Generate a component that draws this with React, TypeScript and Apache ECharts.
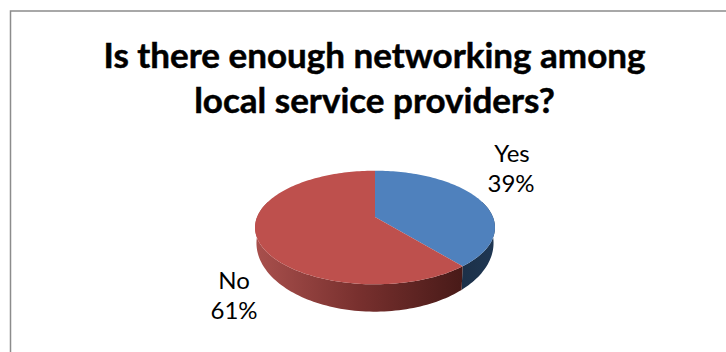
import React, { useEffect, useRef } from "react";
import * as echarts from "echarts";

const categories = ["Yes", "No"];
const values = [39, 61];
const topColors = ["#4f81bd", "#be504d"];
const titleLines = ["Is there enough networking among", "local service providers?"];

// Screen geometry of the tilted disc, with a perspective foreshortening term.
const CX = 375;
const CY = 217;
const SCALE_X = 117.9;
const SCALE_Y = 54.85;
const PERSPECTIVE = 0.185;
// The underside of the disc, seen through the same perspective.
const BOTTOM_CY = 230.3;
const BOTTOM_SCALE_X = 116.5;
const BOTTOM_SCALE_Y = 66.3;

const total = values.reduce((a, b) => a + b, 0);

function sliceRange(index: number): [number, number] {
  const before = values.slice(0, index).reduce((a, b) => a + b, 0);
  return [(before / total) * Math.PI * 2, ((before + values[index]) / total) * Math.PI * 2];
}

function rimPoint(angle: number): [number, number] {
  const u = Math.sin(angle);
  const v = -Math.cos(angle);
  const w = 1 - PERSPECTIVE * v;
  return [CX + (SCALE_X * u) / w, CY + (SCALE_Y * v) / w];
}

function lowerRimPoint(angle: number): [number, number] {
  const u = Math.sin(angle);
  const v = -Math.cos(angle);
  const w = 1 - PERSPECTIVE * v;
  return [CX + (BOTTOM_SCALE_X * u) / w, BOTTOM_CY + (BOTTOM_SCALE_Y * v) / w];
}

function sampleAngles(a: number, b: number): number[] {
  const steps = Math.max(2, Math.ceil(((b - a) / (Math.PI * 2)) * 240));
  const out: number[] = [];
  for (let i = 0; i <= steps; i++) out.push(a + ((b - a) * i) / steps);
  return out;
}

function renderWall(params: any) {
  const i = params.dataIndex;
  const [a, b] = sliceRange(i);
  // Only the near part of the rim is ever visible.
  const angles = sampleAngles(a, b).filter((t) => -Math.cos(t) > -0.3);
  const upper = angles.map(rimPoint);
  const lower = angles.map(lowerRimPoint).reverse();
  const fill =
    i === 0
      ? new echarts.graphic.LinearGradient(0, 0, 1, 0, [
          { offset: 0, color: "#1c3048" },
          { offset: 1, color: "#1f3753" },
        ])
      : new echarts.graphic.LinearGradient(0, 0, 1, 0, [
          { offset: 0, color: "#a9504d" },
          { offset: 0.5, color: "#78302e" },
          { offset: 1, color: "#481a18" },
        ]);
  return { type: "polygon", shape: { points: [...upper, ...lower] }, style: { fill } };
}

function renderTop(params: any) {
  const i = params.dataIndex;
  const [a, b] = sliceRange(i);
  const points = [[CX, CY], ...sampleAngles(a, b).map(rimPoint)];
  return { type: "polygon", shape: { points }, style: { fill: topColors[i] } };
}

const labelFont = { fontFamily: "Lato", fontSize: 24, fill: "#000", textAlign: "center" as const };

export default function App() {
  const ref = useRef<HTMLDivElement>(null);
  useEffect(() => {
    const chart = echarts.init(ref.current!, undefined, { renderer: "svg" });
    const seriesData = categories.map((name, i) => ({ name, value: values[i] }));
    chart.setOption({
      animation: false,
      backgroundColor: "#fff",
      series: [
        { type: "custom", coordinateSystem: "none", data: seriesData, renderItem: renderWall, silent: true, z: 1 },
        { type: "custom", coordinateSystem: "none", data: seriesData, renderItem: renderTop, silent: true, z: 2 },
      ],
      graphic: [
        // The frame runs off the right and bottom edges of the canvas.
        {
          type: "rect",
          shape: { x: 10.5, y: 11, width: 740, height: 360 },
          style: { fill: "none", stroke: "#8c8c8c", lineWidth: 1.5 },
          silent: true,
        },
        ...titleLines.map((line, i) => ({
          type: "text",
          x: 374.5,
          y: 53.5 + i * 45,
          style: {
            text: line,
            fontFamily: "Lato",
            fontWeight: "bold",
            fontSize: 35,
            fill: "#000",
            stroke: "#000",
            lineWidth: 0.5,
            textAlign: "center",
            textVerticalAlign: "middle",
          },
        })),
        {
          type: "text",
          x: 512,
          y: 152,
          style: { ...labelFont, text: categories[0], textVerticalAlign: "middle" },
        },
        {
          type: "text",
          x: 511,
          y: 182,
          style: { ...labelFont, text: `${Math.round((values[0] / total) * 100)}%`, textVerticalAlign: "middle" },
        },
        {
          type: "text",
          x: 234,
          y: 279,
          style: { ...labelFont, text: categories[1], textVerticalAlign: "middle" },
        },
        {
          type: "text",
          x: 234,
          y: 309,
          style: { ...labelFont, text: `${Math.round((values[1] / total) * 100)}%`, textVerticalAlign: "middle" },
        },
      ],
    });
    return () => chart.dispose();
  }, []);
  return <div ref={ref} style={{ position: "fixed", left: 0, top: 0, width: 726, height: 352 }} />;
}
